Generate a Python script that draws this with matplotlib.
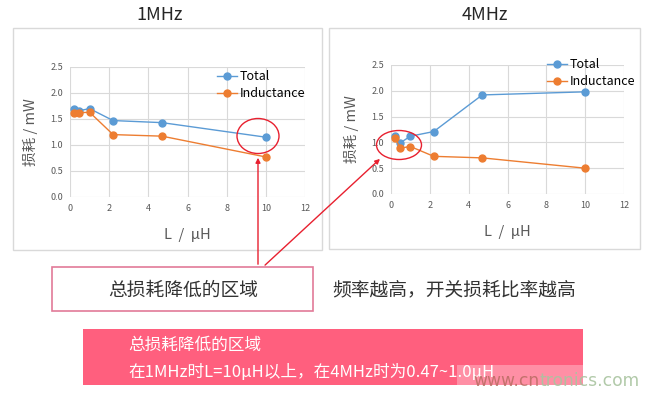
import matplotlib
matplotlib.use("Agg")
import matplotlib.pyplot as plt
from matplotlib.patches import Ellipse, Rectangle, FancyArrowPatch

plt.rcParams['font.family'] = ['Noto Sans CJK SC', 'DejaVu Sans']

# data
L_uH = [0.22, 0.47, 1.0, 2.2, 4.7, 10]
total_1mhz = [1.69, 1.66, 1.70, 1.47, 1.43, 1.15]
ind_1mhz = [1.62, 1.62, 1.63, 1.20, 1.17, 0.77]
total_4mhz = [1.12, 0.99, 1.12, 1.21, 1.92, 1.98]
ind_4mhz = [1.09, 0.89, 0.92, 0.73, 0.70, 0.50]
xticks = [0, 2, 4, 6, 8, 10, 12]
yticks = [0.0, 0.5, 1.0, 1.5, 2.0, 2.5]

W, H = 657, 396
fig = plt.figure(figsize=(W / 100, H / 100), dpi=100)

def fx(x):
    return x / W

def fy(y):
    return 1 - y / H

def box(x0, y0, x1, y1):
    # pixel box -> figure rect
    return [fx(x0), fy(y1), fx(x1) - fx(x0), fy(y0) - fy(y1)]

BLUE = '#5B9BD5'
ORANGE = '#ED7D31'
TICK = '#595959'

# outer panel frames
for (x0, y0, x1, y1) in [(13, 28, 322, 250), (329, 28, 640, 249)]:
    fig.patches.append(Rectangle((fx(x0), fy(y1)), fx(x1) - fx(x0), fy(y0) - fy(y1),
                                 transform=fig.transFigure, fill=False,
                                 edgecolor='#D9D9D9', lw=1))

panels = [
    ("1MHz", box(70, 67, 305, 197), total_1mhz, ind_1mhz, 160, (217, 70)),
    ("4MHz", box(391, 65, 624, 194), total_4mhz, ind_4mhz, 485, (547, 58)),
]

for title, rect, tot, ind, tx, leg in panels:
    ax = fig.add_axes(rect)
    ax.plot(L_uH, tot, '-o', color=BLUE, lw=1, ms=5, label='Total')
    ax.plot(L_uH, ind, '-o', color=ORANGE, lw=1, ms=5, label='Inductance')
    ax.set_xlim(0, 12)
    ax.set_ylim(0, 2.5)
    ax.set_xticks(xticks)
    ax.set_yticks(yticks)
    ax.set_yticklabels(['%.1f' % v for v in yticks])
    ax.grid(True, color='#D9D9D9', lw=0.8)
    ax.set_axisbelow(True)
    for s in ax.spines.values():
        s.set_visible(False)
    ax.tick_params(length=0, labelsize=6.5, colors=TICK, pad=5)
    ax.set_xlabel('L  /  μH', fontsize=10.5, color=TICK, labelpad=11)
    ax.set_ylabel('损耗 / mW', fontsize=10.5, color=TICK, labelpad=9)
    ax.legend(loc='upper left', bbox_to_anchor=(fx(leg[0]), fy(leg[1])),
              bbox_transform=fig.transFigure, frameon=False, borderpad=0,
              borderaxespad=0, fontsize=9, handlelength=1.6,
              handletextpad=0.25, labelspacing=0.35)
    fig.text(fx(tx), fy(15), title, fontsize=13, ha='center', va='center',
             color='#262626')

# red circles
for cx, cy, w, h in [(258, 136, 42, 35), (399, 145, 45, 29)]:
    fig.patches.append(Ellipse((fx(cx), fy(cy)), fx(w), h / H,
                               transform=fig.transFigure, fill=False,
                               edgecolor='#E8202F', lw=1))

# arrows from the label box
for (x0, y0), (x1, y1) in [((258, 267), (258, 155)), ((263, 267), (382, 157))]:
    fig.patches.append(FancyArrowPatch((fx(x0), fy(y0)), (fx(x1), fy(y1)),
                                       transform=fig.transFigure,
                                       arrowstyle='-|>', mutation_scale=7,
                                       color='#E8202F', lw=1))

# label box
fig.patches.append(Rectangle((fx(52), fy(311)), fx(313) - fx(52), fy(267) - fy(311),
                             transform=fig.transFigure, facecolor='white',
                             edgecolor='#E27A98', lw=1.2))
fig.text(fx(183), fy(290), '总损耗降低的区域', fontsize=13.5, ha='center',
         va='center', color='#333333')
fig.text(fx(332), fy(290), '频率越高，开关损耗比率越高', fontsize=13.5,
         ha='left', va='center', color='#333333')

# pink summary box
fig.patches.append(Rectangle((fx(83), fy(385)), fx(583) - fx(83), fy(329) - fy(385),
                             transform=fig.transFigure, facecolor='#FF5F7E',
                             edgecolor='none'))
fig.patches.append(Rectangle((fx(457), fy(385)), fx(583) - fx(457), fy(365) - fy(385),
                             transform=fig.transFigure, facecolor='#FF8FA5',
                             edgecolor='none'))
fig.text(fx(128), fy(345), '总损耗降低的区域', fontsize=12, ha='left',
         va='center', color='white')
fig.text(fx(128), fy(372), '在1MHz时L=10μH以上，在4MHz时为0.47~1.0μH', fontsize=12,
         ha='left', va='center', color='white')

# watermark in two colours
wm1 = fig.text(fx(473), fy(381), 'www.cn', fontsize=12.3, ha='left', va='center',
               color='#B56A5E', alpha=0.8, family='DejaVu Sans')
fig.canvas.draw()
x_end = wm1.get_window_extent().x1 / fig.bbox.width
fig.text(x_end, fy(381), 'tronics.com', fontsize=12.3, ha='left', va='center',
         color='#A9C4A0', alpha=0.9, family='DejaVu Sans')

fig.savefig('out.png', dpi=100)
